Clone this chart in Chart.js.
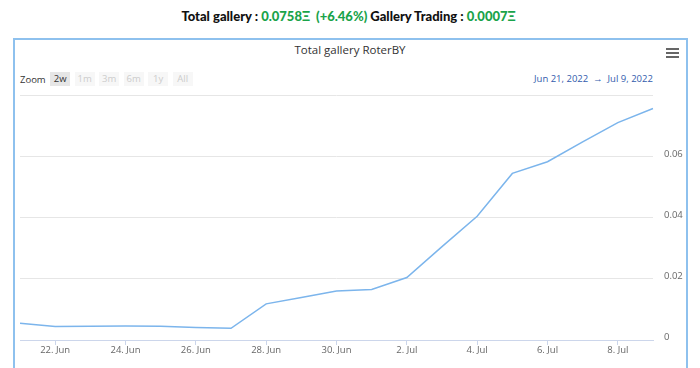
<!DOCTYPE html>
<html>
<head>
<meta charset="utf-8">
<script src="https://cdn.jsdelivr.net/npm/chart.js@4"></script>
<style>
  body { margin: 0; width: 700px; height: 368px; overflow: hidden; background: #fff; font-family: "Open Sans", sans-serif; }
  .head { position: absolute; top: 8px; left: 0; width: 700px; text-align: center; font-family: "Lato", sans-serif; font-weight: 900; font-size: 13px; color: #111; }
  .head .g { color: #1aa34a; margin: 0 3px; }
  .card { position: absolute; left: 13px; top: 38px; width: 675px; height: 340px; border: 2px solid #8ec1ee; box-sizing: border-box; }
  .title { position: absolute; top: 42px; left: 0; width: 700px; text-align: center; font-size: 11.5px; color: #333; }
  .menu { position: absolute; left: 666px; top: 48px; width: 13px; }
  .menu div { height: 2px; background: #666; margin-bottom: 2px; }
  .zoom { position: absolute; left: 20px; top: 72px; font-size: 9.5px; color: #333; display: flex; align-items: center; }
  .zoom span { margin-right: 4.5px; }
  .zoom span.b { background: #f7f7f7; color: #ccc; width: 20px; height: 14px; line-height: 14px; text-align: center; }
  .zoom span.on { background: #e6e6e6; color: #333; }
  .range { position: absolute; left: 534px; top: 72px; font-size: 9.5px; color: #335cad; }
  #wrap { position: absolute; left: 14px; top: 84px; width: 674px; height: 284px; }
</style>
</head>
<body>
<div class="head">Total gallery :<span class="g">0.0758Ξ</span><span class="g">(+6.46%)</span>Gallery Trading :<span class="g">0.0007Ξ</span></div>
<div class="card"></div>
<div class="title">Total gallery RoterBY</div>
<div class="menu"><div></div><div></div><div></div></div>
<div class="zoom"><span>Zoom</span><span class="b on">2w</span><span class="b">1m</span><span class="b">3m</span><span class="b">6m</span><span class="b">1y</span><span class="b">All</span></div>
<div class="range">Jun 21, 2022 &nbsp;&rarr;&nbsp; Jul 9, 2022</div>
<div id="wrap"><canvas id="galleryChart"></canvas></div>
<script>
// daily values, Jun 21 -> Jul 9 2022
const days = ["21. Jun", "22. Jun", "23. Jun", "24. Jun", "25. Jun", "26. Jun", "27. Jun", "28. Jun",
  "29. Jun", "30. Jun", "1. Jul", "2. Jul", "3. Jul", "4. Jul", "5. Jul", "6. Jul", "7. Jul", "8. Jul", "9. Jul"];
const galleryValues = [0.0055, 0.0044, 0.0045, 0.0046, 0.0045, 0.0041, 0.0038, 0.0118,
  0.0139, 0.0160, 0.0165, 0.0204, 0.0305, 0.0404, 0.0544, 0.0582, 0.0647, 0.0710, 0.0756];
const yTicks = [0, 0.02, 0.04, 0.06, 0.08];

const ctx = document.getElementById("galleryChart").getContext("2d");
new Chart(ctx, {
  type: 'line',
  data: {
    labels: days,
    datasets: [{
      label: 'Total gallery',
      data: galleryValues,
      borderColor: '#7cb5ec',
      borderWidth: 1.5,
      pointRadius: 0,
      tension: 0,
      fill: false,
    }],
  },
  options: {
    responsive: true,
    maintainAspectRatio: false,
    animation: false,
    layout: { padding: { left: 6, top: 7, right: 0, bottom: 0 } },
    plugins: {
      legend: { display: false },
      tooltip: { enabled: false },
    },
    scales: {
      x: {
        offset: false,
        grid: {
          drawOnChartArea: false,
          drawTicks: true,
          tickLength: 5,
          color: (c) => (c.index % 2 === 1 ? '#ccd6eb' : 'rgba(0,0,0,0)'),
        },
        border: { color: '#ccd6eb', width: 1 },
        ticks: {
          autoSkip: false,
          maxRotation: 0,
          color: '#666',
          font: { size: 9.5, family: 'Open Sans' },
          padding: 0,
          callback: function (v, i) { return i % 2 === 1 ? days[i] : ''; },
        },
        afterFit: (s) => { s.height = 28; },
      },
      y: {
        position: 'right',
        min: yTicks[0],
        max: yTicks[yTicks.length - 1],
        afterBuildTicks: (s) => { s.ticks = yTicks.map(v => ({ value: v })); },
        grid: { color: '#e6e6e6', drawTicks: false },
        border: { display: false },
        ticks: {
          color: '#666',
          font: { size: 9.5, family: 'Open Sans' },
          padding: 11,
          labelOffset: -7,
          align: 'start',
          crossAlign: 'near',
          callback: (v) => (v === 0.08 ? '' : (v === 0 ? '0' : v.toFixed(2))),
        },
        afterFit: (s) => { s.width = 35; },
      },
    },
  },
});
</script>
</body>
</html>
